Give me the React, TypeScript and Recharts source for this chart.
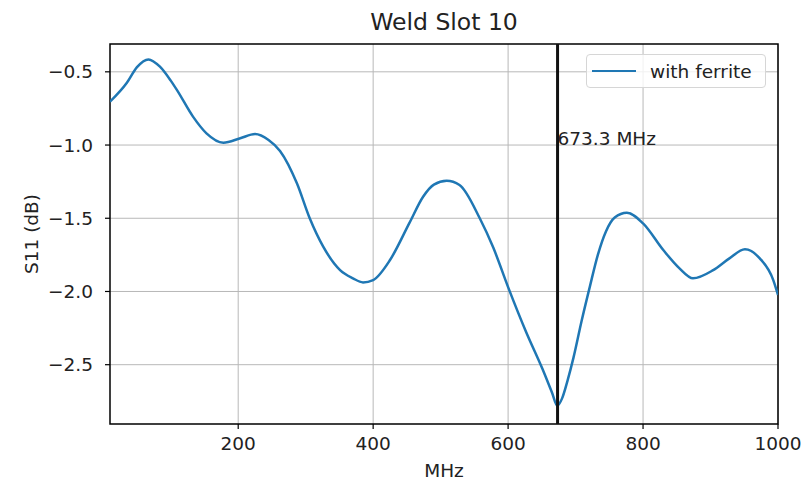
import { LineChart, Line, XAxis, YAxis, CartesianGrid, ReferenceLine, ReferenceDot, ReferenceArea } from 'recharts';

// values
const freqMHz = [
  10, 35, 50, 67, 84, 100, 110, 133, 153, 178, 203, 225, 245, 262, 287, 306, 326, 351, 370,
  385, 400, 425, 454, 474, 490, 509, 528, 558, 578, 600, 627, 651, 665, 673, 680, 688, 697,
  709, 721, 733, 745, 758, 776, 800, 830, 854, 874, 904, 928, 951, 973, 993, 1000,
];
const s11dB = [
  -0.704, -0.575, -0.468, -0.415, -0.465, -0.56, -0.63, -0.806, -0.92, -0.984, -0.954,
  -0.925, -0.965, -1.04, -1.261, -1.5, -1.694, -1.854, -1.91, -1.938, -1.922, -1.785, -1.53,
  -1.353, -1.27, -1.244, -1.273, -1.5, -1.7, -1.97, -2.28, -2.53, -2.69, -2.78, -2.73,
  -2.61, -2.45, -2.2, -1.97, -1.75, -1.59, -1.495, -1.462, -1.535, -1.717, -1.842, -1.91, -1.854,
  -1.774, -1.712, -1.774, -1.922, -2.024,
];
const xTicks = [200, 400, 600, 800, 1000];
const yTicks = [-2.5, -2.0, -1.5, -1.0, -0.5];
const xDomain = [10, 1000];
const yDomain = [-2.905, -0.31];
const markerFreq = 673.3;
const markerLabelY = -1.0;

const data = freqMHz.map((f, i) => ({ f, s11: s11dB[i] }));

const FONT = '"DejaVu Sans", sans-serif';
const TEXT = '#222';

const fmtY = (v: number) => v.toFixed(1).replace('-', '\u2212');

const MarkerLabel = (props: any) => {
  const { viewBox } = props;
  return (
    <text x={viewBox.x} y={viewBox.y} fontSize={18.5} fill={TEXT} fontFamily={FONT}>
      {`${markerFreq} MHz`}
    </text>
  );
};

export default function App() {
  return (
    <div style={{ position: 'absolute', left: 0, top: 0, width: 804, height: 485, background: '#fff', fontFamily: FONT }}>
      <div style={{ position: 'absolute', left: 110, width: 668, top: 9, textAlign: 'center', fontSize: 23.5, lineHeight: '26px', color: TEXT }}>
        Weld Slot 10
      </div>
      <LineChart width={804} height={485} data={data} margin={{ top: 44, right: 26, bottom: 0, left: 0 }}>
        <CartesianGrid stroke="#b8b8b8" strokeWidth={1} horizontalValues={yTicks} verticalValues={xTicks} />
        <XAxis
          dataKey="f"
          type="number"
          domain={xDomain}
          ticks={xTicks}
          allowDataOverflow
          height={61}
          axisLine={false}
          tickSize={5}
          tickMargin={8}
          tickLine={{ stroke: '#000', strokeWidth: 1.2 }}
          tick={{ fill: TEXT, fontSize: 18.5, fontFamily: FONT }}
        />
        <YAxis
          type="number"
          domain={yDomain}
          ticks={yTicks}
          allowDataOverflow
          width={110}
          axisLine={false}
          tickSize={5}
          tickMargin={12}
          tickFormatter={fmtY}
          tickLine={{ stroke: '#000', strokeWidth: 1.2 }}
          tick={{ fill: TEXT, fontSize: 18.5, fontFamily: FONT }}
        />
        <Line
          type="monotone"
          dataKey="s11"
          stroke="#1f77b4"
          strokeWidth={2.5}
          dot={false}
          isAnimationActive={false}
        />
        <ReferenceLine x={markerFreq} stroke="#111" strokeWidth={3} />
        <ReferenceDot x={markerFreq} y={markerLabelY} r={0} fill="none" stroke="none" label={<MarkerLabel />} />
        <ReferenceArea x1={xDomain[0]} x2={xDomain[1]} y1={yDomain[0]} y2={yDomain[1]} fill="none" stroke="#000" strokeWidth={1.5} />
      </LineChart>
      <div
        style={{
          position: 'absolute', left: 586, top: 54, width: 180, height: 34, boxSizing: 'border-box',
          border: '1px solid #d6d6d6', borderRadius: 4, background: 'rgba(255,255,255,0.8)',
          display: 'flex', alignItems: 'center', fontSize: 18.5, color: TEXT,
        }}
      >
        <span style={{ display: 'inline-block', width: 44, height: 2.5, background: '#1f77b4', marginLeft: 5, marginRight: 14 }} />
        <span>with ferrite</span>
      </div>
      <div style={{ position: 'absolute', left: 110, width: 668, top: 460, textAlign: 'center', fontSize: 18.5, lineHeight: '22px', color: TEXT }}>
        MHz
      </div>
      <div
        style={{
          position: 'absolute', left: 32, top: 234, fontSize: 18.5, lineHeight: '22px', color: TEXT,
          whiteSpace: 'nowrap', transform: 'translate(-50%, -50%) rotate(-90deg)',
        }}
      >
        S11 (dB)
      </div>
    </div>
  );
}
